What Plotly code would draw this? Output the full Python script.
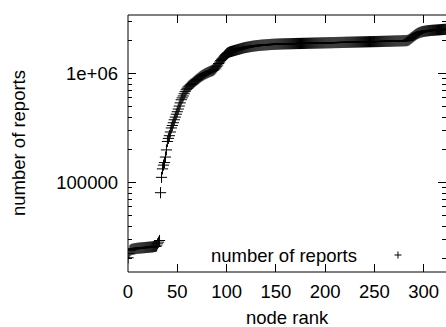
import plotly.graph_objects as go

# Reports received per node, sorted ascending by node rank
node_rank = list(range(324))
reports = [
    20500, 22500, 23800, 24300, 24500, 24600, 24700, 24800, 24900, 25000,
    25050, 25100, 25150, 25200, 25250, 25300, 25350, 25400, 25450, 25500,
    25550, 25600, 25650, 25700, 25750, 25800, 25900, 26000, 26100, 26300,
    27500, 28500, 29500, 81000, 112000, 134000, 145000, 153000, 172000, 200000,
    239000, 255000, 270000, 292000, 318000, 335000, 355000, 378000, 400000, 425000,
    448000, 474000, 505000, 540000, 577000, 600000, 625000, 655000, 685000, 713000,
    735000, 755000, 770000, 785000, 798000, 810000, 822000, 840000, 855000, 870000,
    885000, 900000, 915000, 930000, 945000, 958000, 970000, 982000, 994000, 1005000,
    1015000, 1025000, 1035000, 1045000, 1055000, 1062000, 1070000, 1085000, 1105000, 1130000,
    1160000, 1200000, 1240000, 1280000, 1320000, 1355000, 1385000, 1420000, 1455000, 1490000,
    1520000, 1545000, 1565000, 1580000, 1592000, 1602000, 1612000, 1622000, 1632000, 1642000,
    1652000, 1662000, 1672000, 1682000, 1692000, 1702000, 1712000, 1722000, 1730000, 1738000,
    1745000, 1752000, 1759000, 1766000, 1772000, 1778000, 1784000, 1790000, 1795000, 1800000,
    1805000, 1809000, 1813000, 1817000, 1821000, 1825000, 1828000, 1831000, 1834000, 1837000,
    1840000, 1843000, 1846000, 1849000, 1852000, 1855000, 1857000, 1859000, 1861000, 1863000,
    1865000, 1867000, 1868000, 1870000, 1872000, 1873000, 1875000, 1876000, 1877000, 1879000,
    1880000, 1881000, 1882000, 1882000, 1884000, 1885000, 1886000, 1887000, 1887000, 1889000,
    1890000, 1891000, 1892000, 1893000, 1893000, 1894000, 1896000, 1897000, 1898000, 1898000,
    1899000, 1900000, 1901000, 1903000, 1903000, 1904000, 1905000, 1906000, 1908000, 1908000,
    1909000, 1910000, 1911000, 1912000, 1913000, 1915000, 1915000, 1916000, 1917000, 1918000,
    1919000, 1920000, 1921000, 1923000, 1923000, 1924000, 1925000, 1926000, 1927000, 1929000,
    1930000, 1931000, 1931000, 1932000, 1934000, 1935000, 1935000, 1936000, 1938000, 1938000,
    1940000, 1941000, 1942000, 1943000, 1944000, 1944000, 1946000, 1947000, 1948000, 1949000,
    1950000, 1951000, 1952000, 1953000, 1954000, 1955000, 1956000, 1957000, 1958000, 1959000,
    1960000, 1961000, 1962000, 1963000, 1964000, 1965000, 1966000, 1967000, 1968000, 1969000,
    1970000, 1971000, 1972000, 1973000, 1974000, 1975000, 1976000, 1977000, 1978000, 1980000,
    1981000, 1982000, 1983000, 1984000, 1986000, 1987000, 1988000, 1989000, 1990000, 1992000,
    1994000, 1995000, 1996000, 1997000, 1998000, 1999000, 2000000, 2001000, 2003000, 2005000,
    2006000, 2008000, 2010000, 2015000, 2025000, 2045000, 2075000, 2110000, 2145000, 2180000,
    2215000, 2250000, 2285000, 2315000, 2340000, 2365000, 2385000, 2405000, 2420000, 2432000,
    2443000, 2452000, 2460000, 2468000, 2475000, 2481000, 2487000, 2492000, 2497000, 2501000,
    2505000, 2509000, 2513000, 2517000, 2521000, 2525000, 2529000, 2533000, 2537000, 2541000,
    2545000, 2549000, 2553000, 2556000,
]

x_ticks = [0, 50, 100, 150, 200, 250, 300]
y_ticks = [10000, 100000, 1000000]
y_tick_labels = ["10000", "100000", "1e+06"]
y_minor = [m * 10 ** e for e in (4, 5, 6) for m in range(2, 10)]

FONT = "Liberation Sans, Arial, Helvetica, sans-serif"
FS = 18.5

fig = go.Figure()
fig.add_trace(go.Scatter(
    x=node_rank, y=reports, mode="markers",
    marker=dict(symbol="cross-thin", size=8, color="black",
                line=dict(color="black", width=1)),
    showlegend=False, hoverinfo="skip",
))

fig.update_layout(
    width=446, height=327,
    margin=dict(l=128, r=0, t=15, b=55),
    paper_bgcolor="white", plot_bgcolor="white",
    font=dict(family=FONT, size=FS, color="black"),
    xaxis=dict(
        range=[0, 322.6], tickvals=x_ticks, ticks="inside", ticklen=8,
        tickwidth=1, tickcolor="black", mirror="ticks", showline=False,
        showgrid=False, zeroline=False, ticklabelstandoff=6,
        tickfont=dict(family=FONT, size=FS, color="black"),
    ),
    yaxis=dict(
        type="log", range=[4.181, 6.5385], tickvals=y_ticks,
        ticktext=y_tick_labels, ticks="inside", ticklen=8, tickwidth=1,
        tickcolor="black", mirror="ticks", showline=False, showgrid=False,
        zeroline=False, ticklabelstandoff=9,
        tickfont=dict(family=FONT, size=FS, color="black"),
        minor=dict(tickmode="array", tickvals=y_minor, ticks="inside",
                   ticklen=4, tickwidth=1, tickcolor="black", showgrid=False),
    ),
    shapes=[
        # border: left, bottom, top (right edge falls just past the page)
        dict(type="rect", xref="paper", yref="paper", x0=0, x1=1.0063,
             y0=0, y1=1, line=dict(color="black", width=1)),
        # key sample marker
        dict(type="line", xref="paper", yref="paper", x0=0.838, x1=0.860,
             y0=0.0661, y1=0.0661, line=dict(color="black", width=1)),
        dict(type="line", xref="paper", yref="paper", x0=0.849, x1=0.849,
             y0=0.0525, y1=0.0797, line=dict(color="black", width=1)),
    ],
    annotations=[
        dict(text="number of reports", xref="paper", yref="paper",
             x=0.7264, y=0.0661, xanchor="right", yanchor="middle",
             showarrow=False, font=dict(family=FONT, size=FS)),
        dict(text="node rank", xref="paper", yref="paper",
             x=0.503, y=-0.177, xanchor="center", yanchor="middle",
             showarrow=False, font=dict(family=FONT, size=FS)),
        dict(text="number of reports", xref="paper", yref="paper",
             x=-0.3443, y=0.5, xanchor="center", yanchor="middle",
             textangle=-90, showarrow=False, font=dict(family=FONT, size=FS)),
    ],
)

fig.write_html("out.html")
